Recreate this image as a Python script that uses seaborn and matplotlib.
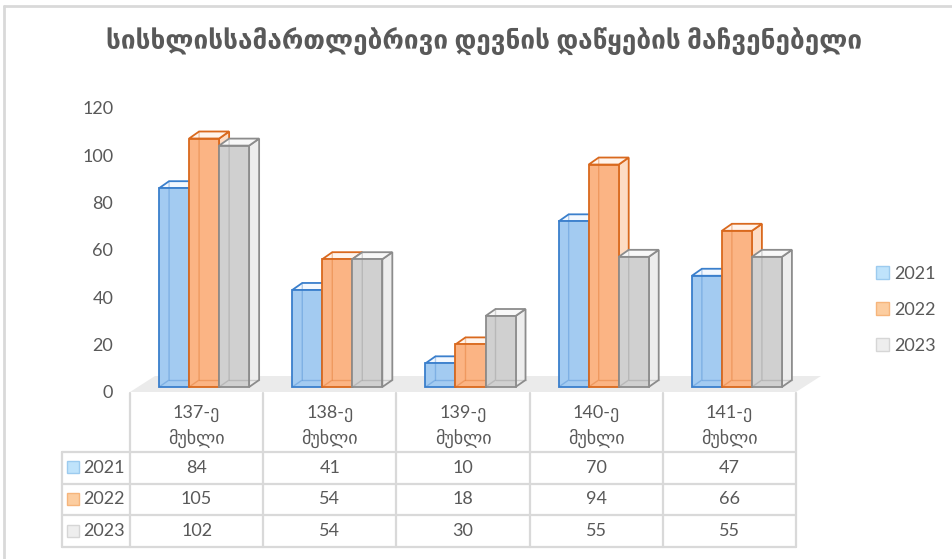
import matplotlib
matplotlib.use('Agg')
import matplotlib.pyplot as plt
import numpy as np
import pandas as pd
import seaborn as sns
from matplotlib.patches import Polygon, Rectangle, Patch

# ── Datos ────────────────────────────────────────────────────
title = 'სისხლისსამართლებრივი დევნის დაწყების მაჩვენებელი'
articles = ['137-ე მუხლი', '138-ე მუხლი', '139-ე მუხლი', '140-ე მუხლი', '141-ე მუხლი']
years = ['2021', '2022', '2023']
v2021 = [84, 41, 10, 70, 47]
v2022 = [105, 54, 18, 94, 66]
v2023 = [102, 54, 30, 55, 55]
values = [v2021, v2022, v2023]

df = pd.DataFrame({
    'article': articles * len(years),
    'year': np.repeat(years, len(articles)),
    'value': v2021 + v2022 + v2023,
})

# ── Estilo ───────────────────────────────────────────────────
front_c = ['#A3CBF1', '#FBB484', '#D0D0D0']
edge_c = ['#3A7FCC', '#D9691E', '#8C8C8C']
side_c = ['#D6E8F9', '#FDDCC4', '#EDEDED']
top_c = ['#F3F8FE', '#FFF4EC', '#F8F8F8']
key_fc = ['#BFE3FB', '#FCCDA0', '#EEEEEE']
key_ec = ['#9CCBEF', '#F6B57C', '#D6D6D6']
txt = '#595959'
grid_c = '#D9D9D9'
fs = 13

sns.set_theme(style='white')
plt.rcParams['font.family'] = ['Lato', 'DejaVu Sans']

W, H = 952, 559
fig = plt.figure(figsize=(W / 100, H / 100), dpi=100)
ov = fig.add_axes([0, 0, 1, 1])
ov.set_xlim(0, W)
ov.set_ylim(H, 0)
ov.axis('off')

ax = fig.add_axes([130 / W, 1 - 392 / H, 666 / W, 284 / H])
ax.patch.set_alpha(0)
sns.barplot(data=df, x='article', y='value', hue='year', palette=front_c,
            width=0.676, gap=0, saturation=1, errorbar=None, legend=False,
            linewidth=0, ax=ax)
ax.set_xlim(-0.5, len(articles) - 0.5)
ax.set_ylim(0, 120)
for s in ax.spines.values():
    s.set_visible(False)
ax.set_xticks([])
ax.set_xlabel('')
ax.set_ylabel('')
ax.set_yticks(range(0, 121, 20))
ax.tick_params(axis='y', length=0, pad=12, labelsize=fs, labelcolor=txt)

# pixeles -> unidades de datos (proyección oblicua)
sx = 666 / len(articles)
sy = 284 / 120
def px(dx, dy):
    return dx / sx, dy / sy

fox, foy = px(7.5, 5)
box, boy = px(17.5, 12)
flx, fly = px(25, 16)

# piso
ax.add_patch(Polygon([(-0.5, 0), (4.5, 0), (4.5 + flx, fly), (-0.5 + flx, fly)],
                     closed=True, facecolor='#EBEBEB', edgecolor='none',
                     zorder=1, clip_on=False))

# barras 3D
for i, cont in enumerate(ax.containers):
    z = 3 + i
    for bar in cont:
        x0 = bar.get_x()
        w = bar.get_width()
        h = bar.get_height()
        x1 = x0 + w
        side = Polygon([(x1 + fox, foy), (x1 + fox, foy + h), (x1 + box, boy + h), (x1 + box, boy)],
                       closed=True, facecolor=side_c[i], edgecolor=edge_c[i], lw=1.3,
                       zorder=z + 0.1, clip_on=False)
        top = Polygon([(x0 + fox, foy + h), (x1 + fox, foy + h), (x1 + box, boy + h), (x0 + box, boy + h)],
                      closed=True, facecolor=top_c[i], edgecolor=edge_c[i], lw=1.3,
                      zorder=z + 0.2, clip_on=False)
        ax.add_patch(side)
        ax.add_patch(top)
        bar.set_x(x0 + fox)
        bar.set_y(foy)
        bar.set_facecolor(front_c[i])
        bar.set_edgecolor(edge_c[i])
        bar.set_linewidth(1.3)
        bar.set_zorder(z + 0.3)
        bar.set_clip_on(False)
        # aristas ocultas
        ax.plot([x0 + fox, x0 + box, x0 + box], [foy, boy, boy + h], color=edge_c[i],
                lw=1.0, alpha=0.35, zorder=z + 0.4, clip_on=False)
        ax.plot([x0 + box, x1 + box], [boy, boy], color=edge_c[i],
                lw=1.0, alpha=0.35, zorder=z + 0.4, clip_on=False)

# ── Marco y título ───────────────────────────────────────────
ov.plot([3.5, W], [5.5, 5.5], color=grid_c, lw=2)
ov.plot([3.5, 3.5], [5.5, H], color=grid_c, lw=2)
ov.text(484, 42, title, ha='center', va='center', fontsize=18.8,
        fontweight='bold', color=txt)

# ── Tabla de datos ───────────────────────────────────────────
edges = [ax.transData.transform((k - 0.5, 0))[0] for k in range(len(articles) + 1)]
row_y = [452, 483.5, 515, 547]
left = 62
for y in row_y:
    ov.plot([left, edges[-1]], [y, y], color=grid_c, lw=1.6)
ov.plot([left, left], [row_y[0], row_y[-1]], color=grid_c, lw=1.6)
for x in edges:
    ov.plot([x, x], [393, row_y[-1]], color=grid_c, lw=1.6)

for k, name in enumerate(articles):
    cx = (edges[k] + edges[k + 1]) / 2
    ov.text(cx, 426, name.replace(' ', '\n'), ha='center', va='center',
            fontsize=fs, color=txt, linespacing=1.45)

for r, yr in enumerate(years):
    cy = (row_y[r] + row_y[r + 1]) / 2
    ov.add_patch(Rectangle((67, cy - 6.5), 12, 12, facecolor=key_fc[r],
                           edgecolor=key_ec[r], lw=1))
    ov.text(83, cy, yr, ha='left', va='center', fontsize=fs, color=txt)
    for k, v in enumerate(values[r]):
        cx = (edges[k] + edges[k + 1]) / 2
        ov.text(cx, cy, str(v), ha='center', va='center', fontsize=fs, color=txt)

# ── Leyenda ──────────────────────────────────────────────────
handles = [Patch(facecolor=key_fc[r], edgecolor=key_ec[r], label=yr) for r, yr in enumerate(years)]
fig.legend(handles=handles, loc='center left', bbox_to_anchor=(876 / W, 1 - 310 / H),
           bbox_transform=fig.transFigure, frameon=False, fontsize=fs, labelcolor=txt,
           handlelength=0.7, handleheight=0.7, handletextpad=0.3,
           labelspacing=1.1, borderpad=0, borderaxespad=0)

fig.savefig('out.png', dpi=100)
plt.close()
